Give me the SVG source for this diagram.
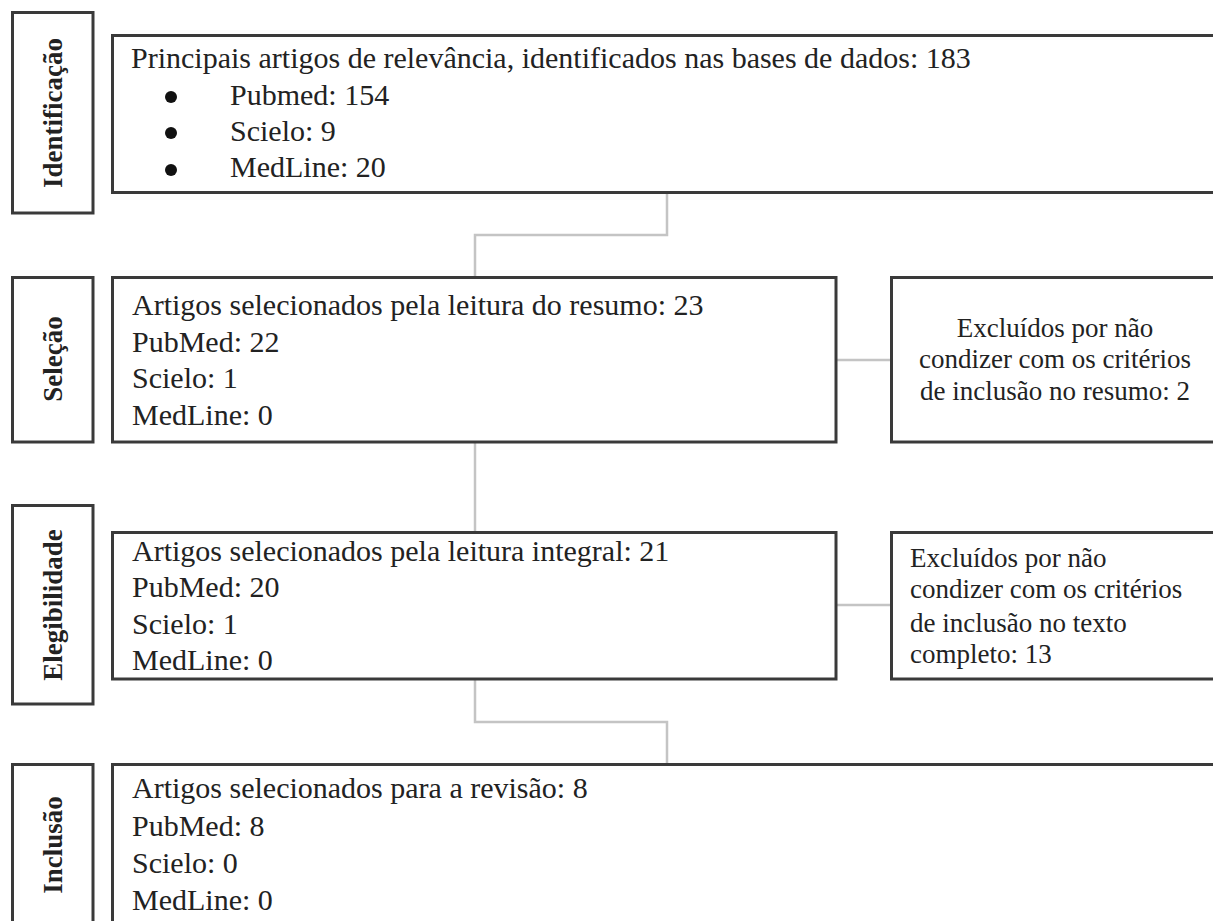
<svg xmlns="http://www.w3.org/2000/svg" width="1213" height="921" viewBox="0 0 1213 921">
<style>
  .box { fill: #ffffff; stroke: #3a3a3a; stroke-width: 3; }
  .conn { fill: none; stroke: #c4c4c4; stroke-width: 2.5; }
  .t { font-family: "Liberation Serif", "Times New Roman", serif; font-size: 30px; fill: #222222; }
  .ex { font-family: "Liberation Serif", "Times New Roman", serif; font-size: 27px; fill: #222222; }
  .lbl { font-family: "Liberation Serif", "Times New Roman", serif; font-size: 27px; font-weight: bold; fill: #222222; text-anchor: middle; }
  .dot { fill: #111111; }
</style>
<rect x="0" y="0" width="1213" height="921" fill="#ffffff"/>
<g id="connectors">
  <polyline class="conn" points="667,193 667,235 475,235 475,277"/>
  <line class="conn" x1="475" y1="442" x2="475" y2="532"/>
  <line class="conn" x1="836" y1="360" x2="891" y2="360"/>
  <line class="conn" x1="836" y1="605" x2="891" y2="605"/>
  <polyline class="conn" points="475,679 475,722 667,722 667,764"/>
</g>
<g id="label-identificacao">
  <rect class="box" x="12.5" y="12.5" width="80.5" height="200.5"/>
  <text class="lbl" transform="translate(62,113) rotate(-90)">Identificação</text>
</g>
<g id="label-selecao">
  <rect class="box" x="12.5" y="277.5" width="80.5" height="164.5"/>
  <text class="lbl" transform="translate(62,359) rotate(-90)">Seleção</text>
</g>
<g id="label-elegibilidade">
  <rect class="box" x="12.5" y="505.5" width="80.5" height="198.5"/>
  <text class="lbl" transform="translate(62,605) rotate(-90)">Elegibilidade</text>
</g>
<g id="label-inclusao">
  <rect class="box" x="12.5" y="764.5" width="80.5" height="170"/>
  <text class="lbl" transform="translate(62,845) rotate(-90)">Inclusão</text>
</g>
<g id="identificacao">
  <rect class="box" x="112.5" y="35.5" width="1110" height="157"/>
  <text class="t" x="131" y="68">Principais artigos de relevância, identificados nas bases de dados: 183</text>
  <circle class="dot" cx="171" cy="97" r="6"/>
  <circle class="dot" cx="171" cy="133" r="6"/>
  <circle class="dot" cx="171" cy="170" r="6"/>
  <text class="t" x="230" y="105">Pubmed: 154</text>
  <text class="t" x="230" y="141">Scielo: 9</text>
  <text class="t" x="230" y="177">MedLine: 20</text>
</g>
<g id="selecao">
  <rect class="box" x="112.5" y="277.5" width="723.5" height="164.5"/>
  <text class="t" x="132" y="315">Artigos selecionados pela leitura do resumo: 23</text>
  <text class="t" x="132" y="352">PubMed: 22</text>
  <text class="t" x="132" y="388">Scielo: 1</text>
  <text class="t" x="132" y="425">MedLine: 0</text>
</g>
<g id="excluidos-resumo">
  <rect class="box" x="891.5" y="277.5" width="340" height="164.5"/>
  <text class="ex" x="1055" y="337" text-anchor="middle">Excluídos por não</text>
  <text class="ex" x="1055" y="368" text-anchor="middle">condizer com os critérios</text>
  <text class="ex" x="1055" y="400" text-anchor="middle">de inclusão no resumo: 2</text>
</g>
<g id="elegibilidade">
  <rect class="box" x="112.5" y="532.5" width="723.5" height="146.5"/>
  <text class="t" x="132" y="561">Artigos selecionados pela leitura integral: 21</text>
  <text class="t" x="132" y="597">PubMed: 20</text>
  <text class="t" x="132" y="634">Scielo: 1</text>
  <text class="t" x="132" y="670">MedLine: 0</text>
</g>
<g id="excluidos-texto">
  <rect class="box" x="891.5" y="532.5" width="340" height="146.5"/>
  <text class="ex" x="910" y="567">Excluídos por não</text>
  <text class="ex" x="910" y="598">condizer com os critérios</text>
  <text class="ex" x="910" y="632">de inclusão no texto</text>
  <text class="ex" x="910" y="663">completo: 13</text>
</g>
<g id="inclusao">
  <rect class="box" x="112.5" y="764.5" width="1110" height="170"/>
  <text class="t" x="132" y="798">Artigos selecionados para a revisão: 8</text>
  <text class="t" x="132" y="836">PubMed: 8</text>
  <text class="t" x="132" y="873">Scielo: 0</text>
  <text class="t" x="132" y="910">MedLine: 0</text>
</g>
</svg>
